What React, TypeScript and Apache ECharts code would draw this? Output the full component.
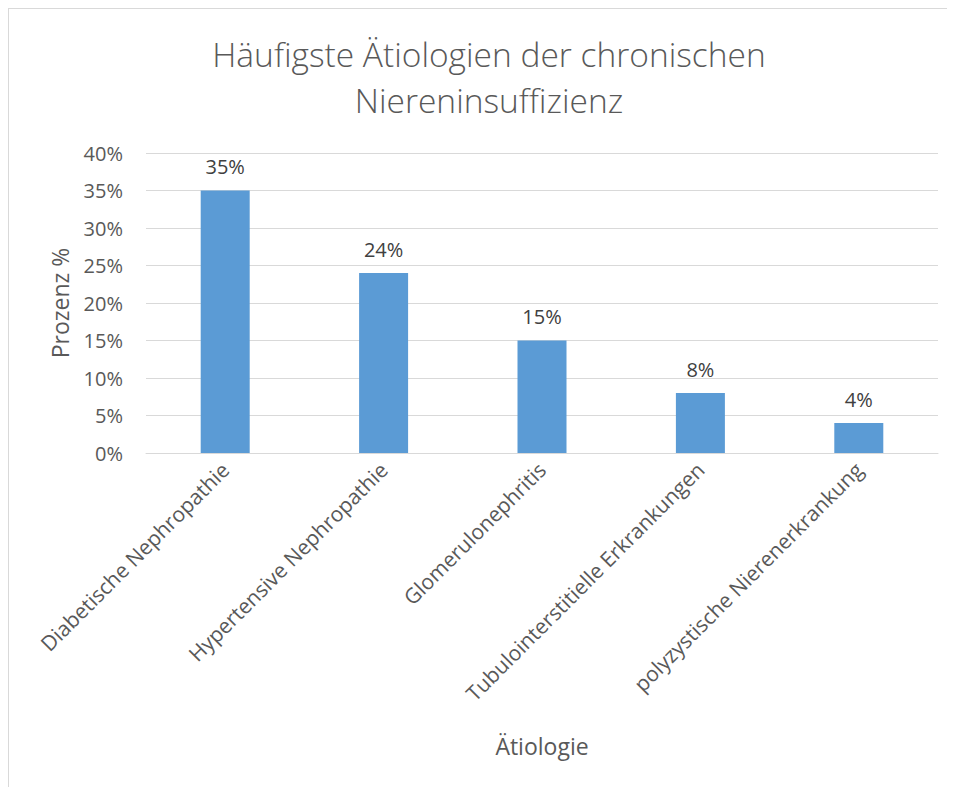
import React, { useEffect, useRef } from "react";
import * as echarts from "echarts";

const categories = [
  "Diabetische Nephropathie",
  "Hypertensive Nephropathie",
  "Glomerulonephritis",
  "Tubulointerstitielle Erkrankungen",
  "polyzystische Nierenerkrankung",
];
const values = [35, 24, 15, 8, 4];
const titleText = "Häufigste Ätiologien der chronischen\nNiereninsuffizienz";
const xName = "Ätiologie";
const yName = "Prozenz %";

export default function App() {
  const ref = useRef<HTMLDivElement>(null);
  useEffect(() => {
    if (!ref.current) return;
    const chart = echarts.init(ref.current, undefined, { renderer: "svg" });
    const font = "'Open Sans', 'Noto Sans', sans-serif";
    chart.setOption({
      animation: false,
      textStyle: { fontFamily: font },
      title: {
        text: titleText,
        left: 475,
        top: 17,
        textAlign: "center",
        textStyle: {
          fontFamily: font,
          fontSize: 33.5,
          fontWeight: 300,
          color: "#595959",
          lineHeight: 46,
        },
      },
      grid: { left: 137, right: 17, top: 144, bottom: 334 },
      xAxis: {
        type: "category",
        data: categories,
        name: xName,
        nameLocation: "middle",
        nameGap: 281,
        nameTextStyle: { fontSize: 23, color: "#595959", fontFamily: font },
        axisLine: { lineStyle: { color: "#d9d9d9" } },
        axisTick: { show: false },
        axisLabel: {
          rotate: 45,
          fontSize: 21,
          color: "#595959",
          margin: 13,
          interval: 0,
          fontFamily: font,
        },
      },
      yAxis: {
        type: "value",
        min: 0,
        max: 40,
        interval: 5,
        name: yName,
        nameLocation: "middle",
        nameGap: 75,
        nameTextStyle: { fontSize: 23, color: "#595959", fontFamily: font },
        axisLine: { show: false },
        axisTick: { show: false },
        axisLabel: {
          formatter: "{value}%",
          fontSize: 20,
          color: "#595959",
          margin: 23,
          fontFamily: font,
        },
        splitLine: { lineStyle: { color: "#d9d9d9", width: 1 } },
      },
      series: [
        {
          type: "bar",
          data: values,
          barWidth: 49,
          itemStyle: { color: "#5B9BD5" },
          label: {
            show: true,
            position: "top",
            distance: 14,
            formatter: "{c}%",
            fontSize: 20,
            color: "#404040",
            fontFamily: font,
          },
        },
      ],
    });
    return () => chart.dispose();
  }, []);
  return (
    <div
      style={{
        width: 947,
        height: 779,
        boxSizing: "border-box",
        borderTop: "1px solid #d9d9d9",
        borderLeft: "1px solid #d9d9d9",
        background: "#fff",
      }}
    >
      <div ref={ref} style={{ width: 946, height: 778 }} />
    </div>
  );
}
